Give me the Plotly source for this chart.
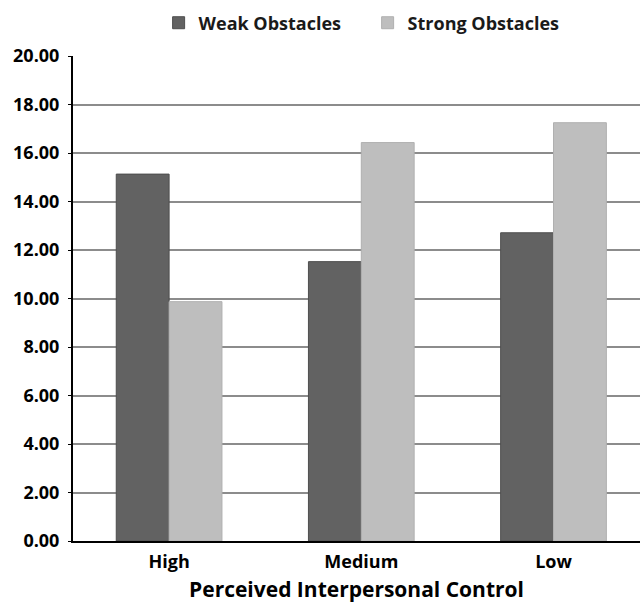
import plotly.graph_objects as go

categories = ["High", "Medium", "Low"]
weak_obstacles = [15.13, 11.52, 12.71]
strong_obstacles = [9.87, 16.43, 17.25]
y_ticks = [0, 2, 4, 6, 8, 10, 12, 14, 16, 18, 20]
y_tick_labels = [f"{v:.2f}" for v in y_ticks]

FONT = "Open Sans"

fig = go.Figure()
fig.add_trace(go.Bar(
    name="Weak Obstacles", x=categories, y=weak_obstacles,
    marker=dict(color="#626262", line=dict(color="#4e4e4e", width=1)),
))
fig.add_trace(go.Bar(
    name="Strong Obstacles", x=categories, y=strong_obstacles,
    marker=dict(color="#bebebe", line=dict(color="#b0b0b0", width=1)),
))

fig.update_layout(
    width=640, height=606,
    paper_bgcolor="white", plot_bgcolor="white",
    margin=dict(l=73, r=0, t=56, b=65),
    barmode="group", bargap=0.45, bargroupgap=0,
    font=dict(family=FONT, color="black"),
    legend=dict(
        orientation="h", x=0.151, y=0.962, xanchor="left", yanchor="middle",
        yref="container", xref="paper",
        font=dict(size=18, family=FONT, color="#1a1a1a", weight="bold"),
        entrywidth=164, entrywidthmode="pixels", traceorder="normal",
        itemwidth=30,
    ),
    showlegend=True,
)

fig.update_xaxes(
    range=[-0.5, 2.45],
    showline=True, linecolor="black", linewidth=2,
    showgrid=False, ticks="",
    ticklabelstandoff=3,
    tickfont=dict(size=18, family=FONT, color="black", weight="bold"),
    title=dict(text="Perceived Interpersonal Control",
               font=dict(size=21, family=FONT, color="black", weight="bold"),
               standoff=11),
)
fig.update_yaxes(
    range=[0, 20], tickvals=y_ticks, ticktext=y_tick_labels,
    showline=True, linecolor="black", linewidth=2,
    showgrid=True, gridcolor="#8c8c8c", gridwidth=1.5,
    ticks="outside", ticklen=3, tickcolor="black",
    ticklabelstandoff=5,
    tickfont=dict(size=18, family=FONT, color="black", weight="bold"),
    zeroline=False,
)

fig.write_html("out.html", config={"displayModeBar": False},
               post_script="document.body.style.margin='0';")
